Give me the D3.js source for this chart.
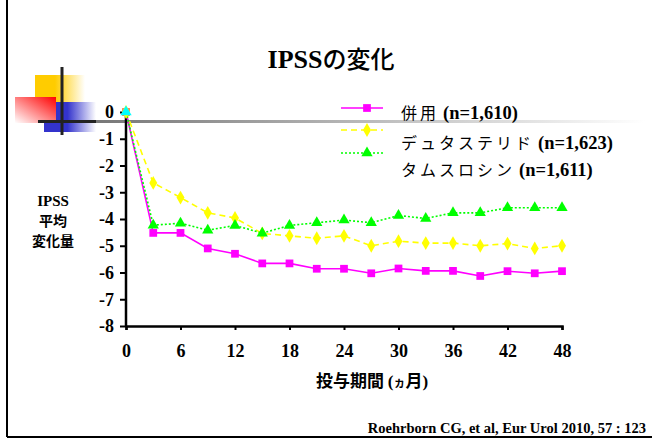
<!DOCTYPE html>
<html>
<head>
<meta charset="utf-8">
<script src="https://cdn.jsdelivr.net/npm/d3@7"></script>
<style>
  body { margin: 0; background: #fff; }
  svg { display: block; }
  .serif { font-family: "Liberation Serif", "Times New Roman", Times, serif; }
  .gothic { font-family: "Noto Sans CJK JP", sans-serif; }
</style>
</head>
<body>
<script>
// data
const months = [0, 3, 6, 9, 12, 15, 18, 21, 24, 27, 30, 33, 36, 39, 42, 45, 48];
const combo = [0, -4.52, -4.52, -5.10, -5.30, -5.66, -5.66, -5.86, -5.86, -6.03, -5.85, -5.94, -5.94, -6.13, -5.95, -6.03, -5.95];
const dutasteride = [0, -2.65, -3.20, -3.77, -3.96, -4.54, -4.63, -4.72, -4.63, -5.00, -4.83, -4.90, -4.90, -5.00, -4.92, -5.10, -5.00];
const tamsulosin = [0, -4.23, -4.16, -4.42, -4.24, -4.53, -4.24, -4.14, -4.04, -4.14, -3.87, -3.98, -3.77, -3.77, -3.58, -3.58, -3.58];
const seriesNames = ["併用", "デュタステリド", "タムスロシン"];
const seriesN = ["(n=1,610)", "(n=1,623)", "(n=1,611)"];
const xTicks = [0, 6, 12, 18, 24, 30, 36, 42, 48];
const yTicks = [0, -1, -2, -3, -4, -5, -6, -7, -8];

const width = 652, height = 439;

const svg = d3.select("body").append("svg")
    .attr("width", width)
    .attr("height", height);

const defs = svg.append("defs");
function grad(id, x1, y1, x2, y2, c1, c2) {
    const g = defs.append("linearGradient").attr("id", id)
        .attr("x1", x1).attr("y1", y1).attr("x2", x2).attr("y2", y2);
    g.append("stop").attr("offset", "0%").attr("stop-color", c1);
    g.append("stop").attr("offset", "100%").attr("stop-color", c2);
}
grad("gYellow", "40%", "0", "100%", "0", "#FFCC00", "#FFFFFF");
grad("gRed", "100%", "0", "0", "100%", "#FF0000", "#FFFFFF");
grad("gBlue", "45%", "0", "100%", "0", "#3333CC", "#FFFFFF");
grad("gGray", "0", "0", "100%", "0", "#777777", "#FFFFFF");

// slide decoration
const deco = svg.append("g");
deco.append("line").attr("x1", 7).attr("x2", 7).attr("y1", 0).attr("y2", 437)
    .attr("stroke", "#000").attr("stroke-width", 2);
deco.append("line").attr("x1", 7).attr("x2", 652).attr("y1", 437).attr("y2", 437)
    .attr("stroke", "#000").attr("stroke-width", 2);
deco.append("rect").attr("x", 35).attr("y", 75).attr("width", 50).attr("height", 28)
    .attr("fill", "url(#gYellow)");
deco.append("rect").attr("x", 44).attr("y", 102).attr("width", 52).attr("height", 30)
    .attr("fill", "url(#gBlue)");
deco.append("rect").attr("x", 15).attr("y", 97).attr("width", 41).attr("height", 26)
    .attr("fill", "url(#gRed)");
deco.append("rect").attr("x", 95).attr("y", 120).attr("width", 550).attr("height", 3)
    .attr("fill", "url(#gGray)");
deco.append("line").attr("x1", 38).attr("x2", 96).attr("y1", 121.5).attr("y2", 121.5)
    .attr("stroke", "#222").attr("stroke-width", 3);
deco.append("line").attr("x1", 62).attr("x2", 62).attr("y1", 67).attr("y2", 135)
    .attr("stroke", "#222").attr("stroke-width", 3);

// title
const title = svg.append("text")
    .attr("x", 331).attr("y", 68)
    .attr("text-anchor", "middle");
title.append("tspan").attr("class", "serif").attr("font-weight", "bold").attr("font-size", 26).text("IPSS");
title.append("tspan").attr("class", "gothic").attr("font-weight", 500).attr("font-size", 24).text("の変化");

const x = d3.scaleLinear().domain([0, 48]).range([126, 562]);
const y = d3.scaleLinear().domain([-8, 0]).range([326, 112]);

// axes
const xAxis = svg.append("g")
    .attr("transform", "translate(0," + y(-8) + ")")
    .call(d3.axisBottom(x).tickValues(xTicks).tickSize(4).tickPadding(14)
        .tickFormat(function (d) { return String(d); }));
const yAxis = svg.append("g")
    .attr("transform", "translate(" + x(0) + ",0)")
    .call(d3.axisLeft(y).tickValues(yTicks).tickSize(6).tickPadding(6)
        .tickFormat(function (d) { return String(d); }));

[xAxis, yAxis].forEach(function (g) {
    g.attr("font-family", null).attr("font-size", null);
    g.select(".domain").attr("stroke", "#000").attr("stroke-width", 2.5);
    g.selectAll(".tick line").attr("stroke", "#000").attr("stroke-width", 2);
    g.selectAll(".tick text")
        .attr("class", "serif")
        .attr("font-weight", "bold")
        .attr("font-size", 18)
        .attr("fill", "#000");
});
yAxis.select(".domain").attr("d", "M0," + y(-8) + "V" + (y(0) + 3));

// axis titles
const xTitle = svg.append("text")
    .attr("x", 372).attr("y", 387)
    .attr("text-anchor", "middle")
    .attr("font-weight", "bold");
xTitle.append("tspan").attr("class", "gothic").attr("font-size", 17).text("投与期間 ");
xTitle.append("tspan").attr("class", "serif").attr("font-size", 17).text("(");
xTitle.append("tspan").attr("class", "gothic").attr("font-size", 12).text("ヵ");
xTitle.append("tspan").attr("class", "gothic").attr("font-size", 17).text("月");
xTitle.append("tspan").attr("class", "serif").attr("font-size", 17).text(")");

const yLabel = svg.append("text")
    .attr("text-anchor", "middle")
    .attr("font-weight", "bold")
    .attr("font-size", 14);
yLabel.append("tspan").attr("x", 53).attr("y", 206).attr("class", "serif").attr("font-size", 15).text("IPSS");
yLabel.append("tspan").attr("x", 53).attr("y", 226).attr("class", "gothic").text("平均");
yLabel.append("tspan").attr("x", 53).attr("y", 246).attr("class", "gothic").text("変化量");

// series
const series = [
    {values: combo, color: "#FF00FF", dash: null, shape: d3.symbolSquare, size: 60},
    {values: dutasteride, color: "#FFFF00", dash: "6,4", shape: d3.symbolDiamond, size: 55},
    {values: tamsulosin, color: "#00FF00", dash: "2,2", shape: d3.symbolTriangle, size: 55}
];

const line = d3.line()
    .x(function (d, i) { return x(months[i]); })
    .y(function (d) { return y(d); });

series.forEach(function (s) {
    svg.append("path")
        .datum(s.values)
        .attr("fill", "none")
        .attr("stroke", s.color)
        .attr("stroke-width", 1.6)
        .attr("stroke-dasharray", s.dash)
        .attr("d", line);
});
series.forEach(function (s, k) {
    svg.append("g").selectAll("path")
        .data(s.values)
        .join("path")
        .attr("transform", function (d, i) { return "translate(" + x(months[i]) + "," + y(d) + ")"; })
        .attr("d", d3.symbol().type(s.shape).size(s.size))
        .attr("fill", function (d, i) {
            if (i === 0 && k === 0) return "#F07840";
            if (i === 0 && k === 2) return "#00FFFF";
            return s.color;
        });
});

// legend
const legendMarkY = [108, 130, 153];
const legendTextY = [119, 149, 176];
series.forEach(function (s, k) {
    const g = svg.append("g");
    g.append("line")
        .attr("x1", 341).attr("x2", 383)
        .attr("y1", legendMarkY[k]).attr("y2", legendMarkY[k])
        .attr("stroke", s.color).attr("stroke-width", 1.6)
        .attr("stroke-dasharray", s.dash);
    g.append("path")
        .attr("transform", "translate(367," + legendMarkY[k] + ")")
        .attr("d", d3.symbol().type(s.shape).size(s.size))
        .attr("fill", s.color);
    const t = g.append("text")
        .attr("x", 401).attr("y", legendTextY[k]);
    t.append("tspan").attr("class", "gothic").attr("font-size", 16).attr("letter-spacing", 3).text(seriesNames[k]);
    t.append("tspan").attr("class", "serif").attr("font-weight", "bold").attr("font-size", 18.5)
        .attr("dx", 4).text(seriesN[k]);
});

// citation
svg.append("text")
    .attr("x", 646).attr("y", 433)
    .attr("text-anchor", "end")
    .attr("class", "serif")
    .attr("font-weight", "bold")
    .attr("font-size", 14.5)
    .text("Roehrborn CG, et al, Eur Urol 2010, 57 : 123");
</script>
</body>
</html>
